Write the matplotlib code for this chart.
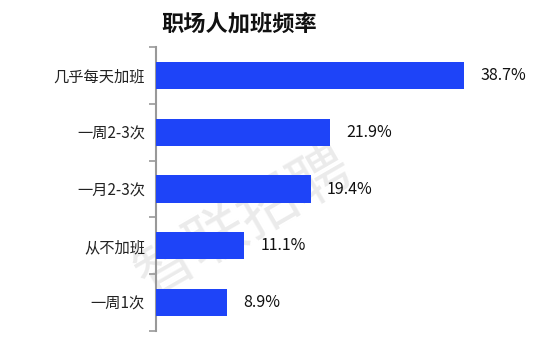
import matplotlib
matplotlib.use("Agg")
import matplotlib.pyplot as plt

plt.rcParams['font.family'] = ['Noto Sans CJK SC', 'DejaVu Sans']

categories = ["几乎每天加班", "一周2-3次", "一月2-3次", "从不加班", "一周1次"]
values = [38.7, 21.9, 19.4, 11.1, 8.9]
value_labels = ["38.7%", "21.9%", "19.4%", "11.1%", "8.9%"]

fig = plt.figure(figsize=(5.59, 3.41), dpi=100)
ax = fig.add_axes([156 / 559, 10 / 341, 384 / 559, 284 / 341])

ypos = list(range(len(categories)))
ax.barh(ypos, values, height=0.48, color="#1E44F8", zorder=3)
ax.set_ylim(len(categories) - 0.5, -0.5)
ax.set_xlim(0, 48.2)

for y, v, lab in zip(ypos, values, value_labels):
    ax.text(v + 2.0, y, lab, va="center", ha="left", fontsize=11.5, color="#111111", zorder=4)

ax.set_yticks(ypos)
ax.set_yticklabels(categories, fontsize=11, color="#222222")
ax.tick_params(axis="y", which="major", length=0, pad=8)
ax.set_yticks([i - 0.5 for i in range(len(categories) + 1)], minor=True)
ax.tick_params(axis="y", which="minor", length=5, width=1.2, color="#999999")
ax.set_xticks([])

for s in ["top", "right", "bottom"]:
    ax.spines[s].set_visible(False)
ax.spines["left"].set_color("#999999")
ax.spines["left"].set_linewidth(1.5)

fig.text(239 / 559, 1 - 24 / 341, "职场人加班频率", ha="center", va="center",
         fontsize=16, fontweight="bold", color="#111111")

# watermark, behind the bars
ax.text(244 / 559, 1 - 222 / 341, "智联招聘", transform=fig.transFigure,
        ha="center", va="center", fontsize=43, fontweight="medium",
        color="#ebebeb", rotation=30, zorder=1, clip_on=False)

fig.savefig("out.png", dpi=100)
